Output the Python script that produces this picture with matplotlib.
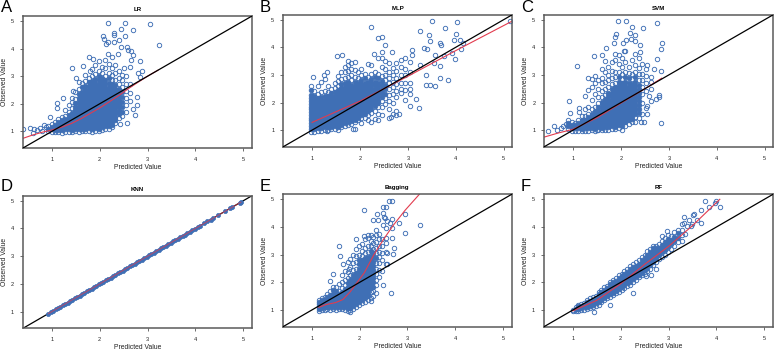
import matplotlib
matplotlib.use('Agg')
import matplotlib.pyplot as plt

plt.rcParams['font.family'] = ['Liberation Sans', 'DejaVu Sans']

# dense part of each cloud, as (predicted, [observed...]) columns
lr_cols = [
    (0.93, [1.02, 1.10, 1.20]),
    (1.00, [0.98, 1.07, 1.17, 1.27]),
    (1.07, [0.97, 1.05, 1.14, 1.23, 1.33]),
    (1.14, [0.98, 1.06, 1.15, 1.25, 1.35, 1.44]),
    (1.21, [0.96, 1.05, 1.14, 1.23, 1.32, 1.41, 1.52]),
    (1.28, [0.98, 1.07, 1.16, 1.26, 1.35, 1.45, 1.56, 1.78]),
    (1.35, [0.99, 1.08, 1.17, 1.26, 1.36, 1.46, 1.58, 1.72, 1.95]),
    (1.42, [0.97, 1.06, 1.15, 1.25, 1.35, 1.45, 1.56, 1.68, 1.85, 2.05, 2.2]),
    (1.49, [1.00, 1.09, 1.18, 1.27, 1.37, 1.47, 1.57, 1.67, 1.78, 1.90, 2.02, 2.18, 2.42]),
    (1.56, [0.98, 1.07, 1.16, 1.26, 1.36, 1.46, 1.56, 1.66, 1.76, 1.86, 1.97, 2.08, 2.2, 2.34, 2.52, 2.8]),
    (1.63, [1.01, 1.10, 1.20, 1.30, 1.40, 1.50, 1.60, 1.70, 1.80, 1.90, 2.00, 2.10, 2.21, 2.32, 2.44, 2.6, 2.75]),
    (1.70, [1.00, 1.09, 1.18, 1.28, 1.38, 1.48, 1.58, 1.68, 1.78, 1.88, 1.98, 2.08, 2.18, 2.28, 2.38, 2.5, 2.64, 2.82, 3.05]),
    (1.77, [1.02, 1.12, 1.22, 1.32, 1.42, 1.52, 1.62, 1.72, 1.82, 1.92, 2.02, 2.12, 2.22, 2.32, 2.42, 2.52, 2.64, 2.78, 2.95]),
    (1.84, [0.99, 1.08, 1.18, 1.28, 1.38, 1.48, 1.58, 1.68, 1.78, 1.88, 1.98, 2.08, 2.18, 2.28, 2.38, 2.48, 2.58, 2.7, 2.84, 3.0, 3.25]),
    (1.91, [1.03, 1.13, 1.23, 1.33, 1.43, 1.53, 1.63, 1.73, 1.83, 1.93, 2.03, 2.13, 2.23, 2.33, 2.43, 2.53, 2.63, 2.75, 2.9, 3.08, 3.42]),
    (1.98, [1.01, 1.10, 1.20, 1.30, 1.40, 1.50, 1.60, 1.70, 1.80, 1.90, 2.00, 2.10, 2.20, 2.30, 2.40, 2.50, 2.6, 2.72, 2.86, 3.02, 3.2, 3.55]),
    (2.05, [1.05, 1.15, 1.25, 1.35, 1.45, 1.55, 1.65, 1.75, 1.85, 1.95, 2.05, 2.15, 2.25, 2.35, 2.45, 2.55, 2.67, 2.8, 2.95, 3.12, 3.35]),
    (2.12, [1.08, 1.18, 1.28, 1.38, 1.48, 1.58, 1.68, 1.78, 1.88, 1.98, 2.08, 2.18, 2.28, 2.38, 2.48, 2.58, 2.7, 2.85, 3.02, 3.3, 3.6]),
    (2.19, [1.10, 1.20, 1.30, 1.40, 1.50, 1.60, 1.70, 1.80, 1.90, 2.00, 2.10, 2.20, 2.30, 2.40, 2.50, 2.62, 2.76, 2.92, 3.1, 3.45]),
    (2.26, [1.15, 1.25, 1.35, 1.45, 1.55, 1.65, 1.75, 1.85, 1.95, 2.05, 2.15, 2.25, 2.35, 2.45, 2.56, 2.7, 2.85, 3.05, 3.3, 3.7]),
    (2.33, [1.30, 1.42, 1.54, 1.65, 1.76, 1.87, 1.98, 2.09, 2.2, 2.31, 2.42, 2.54, 2.68, 2.85, 3.1, 3.4]),
    (2.40, [1.48, 1.62, 1.75, 1.88, 2.0, 2.12, 2.25, 2.38, 2.52, 2.7, 2.95, 3.2]),
    (2.47, [1.55, 1.72, 1.9, 2.08, 2.25, 2.42, 2.6, 2.85, 3.05]),
    (2.55, [1.7, 1.95, 2.2, 2.45, 2.72, 3.0]),
    (2.63, [2.1, 2.38, 2.7]),
]
lr_out_x = [2.18, 2.53, 3.05, 3.23, 2.70, 2.44, 2.30, 2.29, 2.08, 2.09, 2.53, 2.40, 2.29, 2.18, 2.13, 2.58, 2.45, 2.60, 2.65, 2.38, 2.18, 2.69, 2.65, 2.84, 1.77, 1.87, 1.65, 1.43, 2.88, 2.79, 2.84, 2.51, 2.63, 1.79, 1.50, 1.45, 1.24, 1.12, 1.12, 0.97, 0.55, 0.41, 0.62, 0.69, 0.60, 0.83, 2.57, 2.43, 2.74, 2.77, 2.70, 2.77, 0.75, 0.80, 0.87]
lr_out_y = [4.93, 4.93, 4.88, 4.12, 4.69, 4.70, 4.58, 4.48, 4.45, 4.34, 4.45, 4.30, 4.24, 4.24, 4.16, 4.06, 4.04, 3.94, 3.92, 3.82, 3.82, 3.76, 3.60, 3.56, 3.70, 3.64, 3.38, 3.30, 3.20, 3.12, 2.96, 3.28, 3.34, 3.20, 2.92, 2.48, 2.20, 2.02, 1.84, 1.54, 1.14, 1.08, 1.08, 1.06, 0.94, 1.24, 1.30, 1.26, 1.60, 1.96, 1.80, 2.26, 1.12, 1.02, 1.15]
lr_fit_x = [0.40, 0.60, 0.80, 1.00, 1.20, 1.40, 1.60, 1.80, 2.00, 2.20, 2.40, 2.60, 2.80, 3.00, 3.22]
lr_fit_y = [0.75, 0.87, 0.97, 1.05, 1.15, 1.28, 1.45, 1.65, 1.85, 2.07, 2.30, 2.55, 2.78, 3.00, 3.22]

mlp_cols = [
    (0.98, [0.95, 1.05, 1.15, 1.25, 1.35, 1.45, 1.55, 1.65, 1.75, 1.85, 1.95, 2.05, 2.15, 2.28, 2.45, 2.6]),
    (1.05, [0.94, 1.03, 1.13, 1.23, 1.33, 1.43, 1.53, 1.63, 1.73, 1.83, 1.93, 2.03, 2.13, 2.25, 2.4]),
    (1.12, [0.96, 1.06, 1.16, 1.26, 1.36, 1.46, 1.56, 1.66, 1.76, 1.86, 1.96, 2.06, 2.18, 2.32, 2.6]),
    (1.19, [0.98, 1.08, 1.18, 1.28, 1.38, 1.48, 1.58, 1.68, 1.78, 1.88, 1.98, 2.08, 2.2, 2.38, 2.75]),
    (1.26, [1.00, 1.10, 1.20, 1.30, 1.40, 1.50, 1.60, 1.70, 1.80, 1.90, 2.00, 2.10, 2.22, 2.4, 2.85]),
    (1.33, [1.02, 1.12, 1.22, 1.32, 1.42, 1.52, 1.62, 1.72, 1.82, 1.92, 2.02, 2.12, 2.24, 2.38, 2.58]),
    (1.40, [1.03, 1.13, 1.23, 1.33, 1.43, 1.53, 1.63, 1.73, 1.83, 1.93, 2.03, 2.13, 2.23, 2.35, 2.5]),
    (1.47, [1.05, 1.15, 1.25, 1.35, 1.45, 1.55, 1.65, 1.75, 1.85, 1.95, 2.05, 2.15, 2.25, 2.37, 2.52, 2.72]),
    (1.54, [1.02, 1.12, 1.22, 1.32, 1.42, 1.52, 1.62, 1.72, 1.82, 1.92, 2.02, 2.12, 2.22, 2.32, 2.44, 2.58, 2.78, 2.95]),
    (1.61, [1.10, 1.20, 1.30, 1.40, 1.50, 1.60, 1.70, 1.80, 1.90, 2.00, 2.10, 2.20, 2.30, 2.40, 2.52, 2.68, 2.85, 3.1]),
    (1.68, [1.15, 1.25, 1.35, 1.45, 1.55, 1.65, 1.75, 1.85, 1.95, 2.05, 2.15, 2.25, 2.35, 2.45, 2.57, 2.72, 2.9, 3.12, 3.3]),
    (1.75, [1.20, 1.30, 1.40, 1.50, 1.60, 1.70, 1.80, 1.90, 2.00, 2.10, 2.20, 2.30, 2.40, 2.50, 2.6, 2.75, 2.92, 3.15, 3.35, 3.5]),
    (1.82, [1.22, 1.32, 1.42, 1.52, 1.62, 1.72, 1.82, 1.92, 2.02, 2.12, 2.22, 2.32, 2.42, 2.52, 2.64, 2.8, 3.0, 3.2, 3.42]),
    (1.89, [1.05, 1.28, 1.38, 1.48, 1.58, 1.68, 1.78, 1.88, 1.98, 2.08, 2.18, 2.28, 2.38, 2.48, 2.6, 2.74, 2.92, 3.18, 3.48]),
    (1.96, [1.35, 1.45, 1.55, 1.65, 1.75, 1.85, 1.95, 2.05, 2.15, 2.25, 2.35, 2.45, 2.56, 2.7, 2.88, 3.1]),
    (2.03, [1.25, 1.45, 1.55, 1.65, 1.75, 1.85, 1.95, 2.05, 2.15, 2.25, 2.35, 2.45, 2.56, 2.68, 2.82, 3.0, 3.2]),
    (2.10, [1.45, 1.58, 1.7, 1.8, 1.9, 2.0, 2.1, 2.2, 2.3, 2.4, 2.5, 2.6, 2.72, 2.88, 3.05]),
    (2.17, [1.35, 1.55, 1.68, 1.8, 1.92, 2.02, 2.12, 2.22, 2.32, 2.42, 2.52, 2.62, 2.75, 2.92, 3.38]),
    (2.24, [1.3, 1.62, 1.78, 1.9, 2.0, 2.1, 2.2, 2.3, 2.4, 2.5, 2.6, 2.72, 2.86, 3.05, 3.35]),
    (2.31, [1.4, 1.7, 1.88, 2.0, 2.1, 2.2, 2.3, 2.4, 2.5, 2.62, 2.76, 2.92, 3.1]),
    (2.38, [1.35, 1.6, 1.82, 1.98, 2.1, 2.22, 2.34, 2.46, 2.58, 2.72, 2.88, 3.02, 3.6]),
    (2.45, [1.55, 1.85, 2.05, 2.2, 2.34, 2.48, 2.62, 2.78, 2.95, 3.3, 3.6]),
    (2.52, [1.95, 2.15, 2.32, 2.48, 2.64, 2.8, 3.0, 3.2, 3.5]),
    (2.60, [1.45, 1.75, 2.05, 2.28, 2.5, 2.7, 2.9, 3.1, 3.42]),
    (2.68, [1.6, 1.98, 2.3, 2.55, 2.75, 2.98, 3.25]),
    (2.76, [1.55, 1.7, 2.2, 2.42, 2.66, 2.9, 3.15, 3.42]),
    (2.85, [2.35, 2.5, 2.72, 3.0, 3.3, 3.55]),
    (2.95, [2.1, 2.45, 2.7, 3.0, 3.2, 3.6]),
    (3.05, [2.3, 2.48, 2.72, 3.12, 3.45]),
]
mlp_out_x = [2.23, 3.50, 4.03, 3.78, 3.26, 3.44, 4.01, 2.37, 2.46, 2.53, 3.46, 4.08, 3.96, 4.15, 3.68, 3.70, 3.33, 3.40, 4.11, 3.09, 5.14, 1.52, 1.63, 2.30, 2.46, 2.67, 3.09, 3.57, 3.75, 3.92, 3.99, 3.54, 3.68, 3.26, 3.37, 3.68, 3.83, 3.47, 3.57, 3.37, 3.23, 3.05, 3.18, 2.81, 2.64, 1.03, 1.31, 1.24, 1.31, 1.85]
mlp_out_y = [4.72, 4.94, 4.90, 4.70, 4.60, 4.46, 4.49, 4.33, 4.36, 4.07, 4.24, 4.28, 4.25, 4.16, 4.16, 4.07, 3.98, 3.95, 3.94, 3.89, 4.94, 3.70, 3.71, 3.77, 3.83, 3.82, 3.73, 3.73, 3.67, 3.80, 3.58, 3.43, 3.34, 3.37, 3.01, 2.87, 2.81, 2.63, 2.59, 2.63, 1.81, 1.89, 2.11, 1.57, 1.48, 2.93, 3.10, 3.00, 0.96, 1.05]
mlp_fit_x = [1.00, 2.00, 3.00, 4.00, 5.18]
mlp_fit_y = [1.28, 2.05, 2.95, 3.88, 4.95]

svm_cols = [
    (0.90, [1.05, 1.15, 1.27, 1.38]),
    (0.97, [0.98, 1.08, 1.18, 1.3]),
    (1.04, [0.98, 1.07, 1.17, 1.27]),
    (1.11, [0.97, 1.06, 1.16, 1.27, 1.38]),
    (1.18, [0.96, 1.05, 1.15, 1.25, 1.36, 1.5]),
    (1.25, [0.98, 1.07, 1.17, 1.27, 1.38, 1.5, 1.75, 2.25]),
    (1.32, [0.97, 1.06, 1.16, 1.26, 1.36, 1.47, 1.6, 1.85, 2.45, 2.9]),
    (1.39, [0.99, 1.08, 1.18, 1.28, 1.38, 1.48, 1.6, 1.75, 2.1, 2.55, 2.85]),
    (1.46, [0.98, 1.08, 1.18, 1.28, 1.38, 1.48, 1.58, 1.7, 1.85, 2.3, 2.7, 2.95]),
    (1.53, [1.00, 1.10, 1.20, 1.30, 1.40, 1.50, 1.60, 1.70, 1.82, 1.98, 2.2, 2.5, 2.8]),
    (1.60, [0.99, 1.09, 1.19, 1.29, 1.39, 1.49, 1.59, 1.69, 1.79, 1.9, 2.03, 2.2, 2.42, 2.7, 2.9, 3.22]),
    (1.67, [1.02, 1.12, 1.22, 1.32, 1.42, 1.52, 1.62, 1.72, 1.82, 1.92, 2.02, 2.14, 2.28, 2.5, 2.75, 3.1, 3.5]),
    (1.74, [1.00, 1.10, 1.20, 1.30, 1.40, 1.50, 1.60, 1.70, 1.80, 1.90, 2.00, 2.10, 2.22, 2.36, 2.55, 2.8, 3.0, 3.3]),
    (1.81, [1.05, 1.15, 1.25, 1.35, 1.45, 1.55, 1.65, 1.75, 1.85, 1.95, 2.05, 2.15, 2.25, 2.36, 2.5, 2.68, 2.9, 3.15, 3.45]),
    (1.88, [1.03, 1.13, 1.23, 1.33, 1.43, 1.53, 1.63, 1.73, 1.83, 1.93, 2.03, 2.13, 2.23, 2.33, 2.44, 2.56, 2.72, 2.92, 3.1, 3.55, 3.75]),
    (1.95, [1.08, 1.18, 1.28, 1.38, 1.48, 1.58, 1.68, 1.78, 1.88, 1.98, 2.08, 2.18, 2.28, 2.38, 2.48, 2.6, 2.75, 2.92, 3.1, 3.4, 3.72]),
    (2.02, [1.02, 1.15, 1.25, 1.35, 1.45, 1.55, 1.65, 1.75, 1.85, 1.95, 2.05, 2.15, 2.25, 2.35, 2.45, 2.56, 2.7, 2.85, 3.05, 3.3, 3.6]),
    (2.09, [1.15, 1.28, 1.38, 1.48, 1.58, 1.68, 1.78, 1.88, 1.98, 2.08, 2.18, 2.28, 2.38, 2.48, 2.6, 2.74, 2.92, 3.1, 3.45, 3.85]),
    (2.16, [1.22, 1.35, 1.45, 1.55, 1.65, 1.75, 1.85, 1.95, 2.05, 2.15, 2.25, 2.35, 2.45, 2.56, 2.7, 2.88, 3.06, 3.3]),
    (2.23, [1.3, 1.42, 1.52, 1.62, 1.72, 1.82, 1.92, 2.02, 2.12, 2.22, 2.32, 2.42, 2.54, 2.68, 2.85, 3.05, 3.55]),
    (2.30, [1.28, 1.48, 1.6, 1.72, 1.84, 1.96, 2.08, 2.2, 2.32, 2.44, 2.58, 2.74, 2.92, 3.1, 3.35, 3.75]),
    (2.37, [1.45, 1.62, 1.78, 1.92, 2.06, 2.2, 2.34, 2.48, 2.64, 2.82, 3.02, 3.25, 3.6]),
    (2.44, [1.6, 2.0, 2.3, 2.55, 2.8, 3.05, 3.38]),
    (2.52, [1.8, 2.4, 2.7, 2.95, 3.2]),
    (2.62, [2.05, 2.5, 2.75, 2.92]),
]
svm_out_x = [1.94, 2.10, 2.75, 2.24, 2.46, 2.18, 2.29, 1.89, 1.87, 2.20, 2.10, 2.29, 2.86, 1.86, 2.04, 2.40, 2.84, 1.68, 2.06, 1.44, 1.60, 2.40, 2.76, 1.09, 2.84, 2.69, 2.55, 0.92, 1.13, 1.13, 0.93, 2.84, 0.48, 0.60, 0.67, 0.74, 2.80, 2.80, 2.73, 2.59, 2.55, 2.55, 2.48, 2.41, 1.51, 0.80, 0.85]
svm_out_y = [4.94, 4.94, 4.88, 4.72, 4.70, 4.52, 4.46, 4.48, 4.36, 4.30, 4.28, 4.24, 4.16, 4.16, 4.16, 4.07, 3.95, 3.98, 3.86, 3.67, 3.71, 3.83, 3.59, 3.31, 3.13, 3.23, 3.37, 2.05, 1.81, 1.65, 1.63, 1.27, 0.96, 1.14, 0.99, 1.08, 2.29, 2.20, 2.11, 2.23, 1.87, 1.57, 1.29, 1.29, 1.00, 1.16, 1.22]
svm_fit_x = [0.40, 0.70, 1.00, 1.50, 2.00, 2.50, 2.85]
svm_fit_y = [0.75, 0.90, 1.03, 1.45, 1.98, 2.50, 2.88]

knn_vals = [0.93, 0.98, 1.03, 1.08, 1.13, 1.18, 1.23, 1.28, 1.33, 1.38, 1.43, 1.48, 1.53, 1.58, 1.63, 1.68, 1.73, 1.78, 1.83, 1.88, 1.93, 1.98, 2.03, 2.08, 2.13, 2.18, 2.23, 2.28, 2.33, 2.38, 2.43, 2.48, 2.53, 2.58, 2.63, 2.68, 2.73, 2.78, 2.83, 2.88, 2.93, 2.98, 3.03, 3.08, 3.13, 3.18, 3.23, 3.28, 3.33, 3.38, 3.43, 3.48, 3.53, 3.58, 3.63, 3.68, 3.73, 3.78, 3.83, 3.88, 3.93, 3.98, 4.05, 4.10, 4.18, 4.25, 4.32, 4.36, 4.48, 4.62, 4.72, 4.76, 4.92, 4.95]
knn_fit_x = [0.93, 4.95]
knn_fit_y = [0.93, 4.95]

bag_cols = [
    (1.15, [0.95, 1.03, 1.12, 1.21, 1.3, 1.38]),
    (1.21, [1.0, 1.08, 1.17, 1.26, 1.35, 1.42]),
    (1.27, [1.02, 1.1, 1.19, 1.28, 1.37, 1.47]),
    (1.33, [1.03, 1.11, 1.2, 1.29, 1.38, 1.48, 1.58]),
    (1.39, [1.02, 1.1, 1.19, 1.28, 1.37, 1.46, 1.56, 1.68]),
    (1.45, [1.03, 1.11, 1.2, 1.29, 1.38, 1.47, 1.57, 1.72, 1.85]),
    (1.51, [1.02, 1.1, 1.19, 1.28, 1.37, 1.46, 1.56, 1.68, 1.85]),
    (1.57, [1.03, 1.11, 1.2, 1.29, 1.38, 1.47, 1.57, 1.7, 1.95]),
    (1.63, [1.03, 1.11, 1.2, 1.29, 1.38, 1.47, 1.56, 1.66, 1.78, 2.0, 2.25]),
    (1.69, [1.02, 1.1, 1.19, 1.28, 1.37, 1.46, 1.55, 1.65, 1.76, 1.9, 2.1, 2.4]),
    (1.75, [0.98, 1.07, 1.16, 1.25, 1.34, 1.43, 1.52, 1.62, 1.72, 1.83, 1.97, 2.15, 2.38, 2.75]),
    (1.81, [1.0, 1.09, 1.18, 1.27, 1.36, 1.45, 1.54, 1.64, 1.74, 1.84, 1.95, 2.1, 2.28, 2.55, 2.85]),
    (1.87, [1.05, 1.14, 1.23, 1.32, 1.41, 1.5, 1.6, 1.7, 1.8, 1.9, 2.0, 2.12, 2.28, 2.45, 2.7, 3.0]),
    (1.93, [1.12, 1.22, 1.32, 1.42, 1.52, 1.62, 1.72, 1.82, 1.92, 2.02, 2.12, 2.22, 2.34, 2.5, 2.72, 2.95, 3.2]),
    (1.99, [1.18, 1.28, 1.38, 1.48, 1.58, 1.68, 1.78, 1.88, 1.98, 2.08, 2.18, 2.28, 2.38, 2.5, 2.65, 2.82, 3.0, 3.3]),
    (2.05, [1.25, 1.35, 1.45, 1.55, 1.65, 1.75, 1.85, 1.95, 2.05, 2.15, 2.25, 2.35, 2.45, 2.55, 2.67, 2.8, 2.95, 3.15, 3.4]),
    (2.11, [1.3, 1.42, 1.52, 1.62, 1.72, 1.82, 1.92, 2.02, 2.12, 2.22, 2.32, 2.42, 2.52, 2.62, 2.74, 2.88, 3.05, 3.25, 3.55]),
    (2.17, [1.38, 1.5, 1.62, 1.74, 1.85, 1.96, 2.06, 2.16, 2.26, 2.36, 2.46, 2.56, 2.66, 2.78, 2.92, 3.1, 3.3, 3.6, 3.72]),
    (2.23, [1.32, 1.45, 1.65, 1.8, 1.95, 2.08, 2.2, 2.32, 2.44, 2.56, 2.68, 2.8, 2.95, 3.12, 3.3, 3.5, 3.72]),
    (2.29, [1.5, 1.7, 1.85, 2.0, 2.15, 2.3, 2.45, 2.6, 2.75, 2.9, 3.05, 3.22, 3.42, 3.65]),
    (2.35, [1.62, 1.9, 2.1, 2.3, 2.5, 2.7, 2.88, 3.05, 3.25, 3.45, 3.7, 3.88]),
    (2.41, [2.2, 2.45, 2.7, 2.9, 3.1, 3.3, 3.55, 3.75]),
    (2.47, [2.4, 2.8, 3.05, 3.3, 3.55]),
    (2.55, [2.65, 3.1, 3.42, 3.62]),
]
bag_out_x = [2.61, 2.68, 2.48, 2.56, 2.10, 2.48, 2.36, 2.96, 2.51, 2.54, 2.28, 2.39, 2.67, 2.58, 2.63, 2.82, 2.48, 3.26, 2.56, 2.67, 2.94, 2.09, 1.92, 2.68, 1.57, 2.71, 2.70, 1.60, 1.65, 1.45, 1.38, 2.65, 2.48, 1.80, 2.58, 2.57, 1.78]
bag_out_y = [4.94, 4.94, 4.72, 4.73, 4.60, 4.49, 4.46, 4.46, 4.36, 4.31, 4.25, 4.25, 4.28, 4.22, 4.13, 4.16, 4.07, 4.07, 3.95, 3.98, 3.77, 3.67, 3.55, 3.61, 3.31, 3.25, 3.01, 2.95, 2.65, 2.31, 2.05, 1.60, 1.90, 0.94, 2.65, 3.07, 2.49]
bag_fit_x = [1.15, 1.30, 1.50, 1.65, 1.80, 1.95, 2.10, 2.30, 2.50, 2.70, 2.95, 3.25]
bag_fit_y = [1.10, 1.20, 1.27, 1.38, 1.65, 2.00, 2.35, 3.00, 3.55, 4.05, 4.60, 5.18]

rf_cols = [
    (1.00, [0.96, 1.02]),
    (1.06, [0.97, 1.03, 1.1]),
    (1.12, [0.98, 1.05, 1.13, 1.2]),
    (1.18, [1.0, 1.07, 1.15, 1.23]),
    (1.24, [1.02, 1.1, 1.18, 1.27]),
    (1.30, [1.04, 1.12, 1.2, 1.29, 1.38]),
    (1.36, [1.07, 1.15, 1.24, 1.33, 1.42]),
    (1.42, [1.1, 1.19, 1.28, 1.37, 1.46]),
    (1.48, [1.15, 1.24, 1.33, 1.42, 1.52]),
    (1.54, [1.2, 1.29, 1.38, 1.47, 1.57, 1.66]),
    (1.60, [1.28, 1.37, 1.46, 1.55, 1.64, 1.74]),
    (1.66, [1.35, 1.44, 1.53, 1.62, 1.71, 1.82]),
    (1.72, [1.42, 1.51, 1.6, 1.69, 1.78, 1.88]),
    (1.78, [1.48, 1.57, 1.66, 1.75, 1.84, 1.94, 2.02]),
    (1.84, [1.53, 1.62, 1.71, 1.8, 1.9, 2.0, 2.1]),
    (1.90, [1.6, 1.69, 1.78, 1.87, 1.96, 2.06, 2.16]),
    (1.96, [1.65, 1.75, 1.85, 1.95, 2.05, 2.15, 2.25]),
    (2.02, [1.72, 1.82, 1.92, 2.02, 2.12, 2.22, 2.32]),
    (2.08, [1.8, 1.9, 2.0, 2.1, 2.2, 2.3, 2.4]),
    (2.14, [1.88, 1.98, 2.08, 2.18, 2.28, 2.38, 2.48]),
    (2.20, [1.92, 2.03, 2.14, 2.25, 2.36, 2.47, 2.58]),
    (2.26, [2.0, 2.11, 2.22, 2.33, 2.44, 2.55, 2.66]),
    (2.32, [2.1, 2.2, 2.3, 2.4, 2.5, 2.6, 2.72]),
    (2.38, [2.18, 2.28, 2.38, 2.48, 2.58, 2.68, 2.8]),
    (2.44, [2.25, 2.35, 2.46, 2.57, 2.68, 2.8, 2.9]),
    (2.50, [2.32, 2.43, 2.54, 2.65, 2.76, 2.88, 3.0]),
    (2.56, [2.42, 2.53, 2.64, 2.75, 2.87, 3.0, 3.12]),
    (2.62, [2.5, 2.62, 2.74, 2.86, 2.98, 3.1, 3.22]),
    (2.68, [2.62, 2.75, 2.88, 3.0, 3.12, 3.25, 3.32]),
    (2.74, [2.75, 2.88, 3.0, 3.13, 3.25, 3.33]),
    (2.80, [2.85, 3.0, 3.12, 3.25, 3.4]),
    (2.86, [2.92, 3.08, 3.22, 3.36, 3.5]),
    (2.92, [3.0, 3.18, 3.32, 3.46, 3.6]),
    (2.98, [3.1, 3.28, 3.42, 3.56, 3.72]),
    (3.05, [3.2, 3.38, 3.52, 3.68]),
    (3.12, [3.3, 3.48, 3.65, 3.82]),
    (3.20, [3.45, 3.62, 3.78, 3.88]),
    (3.28, [3.5, 3.72, 3.88, 4.1]),
]
rf_out_x = [3.76, 4.00, 3.96, 3.85, 4.08, 3.67, 3.53, 3.33, 3.42, 3.32, 3.68, 3.49, 3.46, 3.35, 2.97, 2.87, 2.73, 2.25, 1.77, 1.45, 2.64, 2.52, 3.50, 3.60, 3.38]
rf_out_y = [4.94, 4.94, 4.88, 4.72, 4.72, 4.60, 4.48, 4.36, 4.25, 4.16, 4.16, 4.10, 4.04, 3.76, 3.86, 3.67, 2.49, 1.63, 1.20, 0.93, 2.25, 2.23, 4.45, 4.25, 4.05]
rf_fit_x = [1.00, 1.50, 2.00, 2.50, 3.00, 3.50, 4.07]
rf_fit_y = [0.97, 1.35, 1.95, 2.65, 3.30, 4.05, 5.00]

blue = '#3f6fb5'
red = '#e23b4e'
frame = '#5a5a5a'
lo, hi = 0.40, 5.18
W, H = 775.0, 350.0


def split_cols(cols, out_x, out_y):
    # packed points overlap into a solid mass in the original, so fill those
    hx, hy = list(out_x), list(out_y)
    sx, sy = [], []
    for x, ys in cols:
        for i, y in enumerate(ys):
            packed = 0 < i < len(ys) - 1 and ys[i + 1] - y < 0.19 and y - ys[i - 1] < 0.19
            if packed:
                sx.append(x)
                sy.append(y)
            else:
                hx.append(x)
                hy.append(y)
    return hx, hy, sx, sy


def panel(box, title, letter, letter_x, letter_y, pts, fx, fy):
    x0, x1, y0, y1 = box
    hx, hy, sx, sy = pts
    ax = fig.add_axes([x0 / W, 1 - y1 / H, (x1 - x0) / W, (y1 - y0) / H])
    knn = title == 'KNN'
    ax.plot(hx, hy, 'o', ms=3.2, mfc='none', mec=blue, mew=0.65, zorder=2)
    ax.plot(sx, sy, 'o', ms=3.0 if knn else 3.4, mfc=blue, mec=blue, mew=0.5, zorder=2)
    ax.plot([lo, hi], [lo, hi], color='black', lw=0.9, zorder=1 if knn else 3)
    ax.plot(fx, fy, color=red, lw=0.7 if knn else 0.8, alpha=0.7 if knn else 1, zorder=4 if knn else 2.5)
    ax.set_xlim(lo, hi)
    ax.set_ylim(lo, hi)
    ax.set_xticks([1, 2, 3, 4, 5])
    ax.set_yticks([1, 2, 3, 4, 5])
    ax.tick_params(labelsize=4, length=2, width=0.5, pad=4.5, color='#333333', labelcolor='#222222')
    ax.set_xlabel('Predicted Value', fontsize=4.9, labelpad=1.5, color='#222222')
    ax.set_ylabel('Observed Value', fontsize=4.9, labelpad=2, color='#222222')
    ax.set_title(title, fontsize=4.4, fontweight='bold', pad=3.5)
    for s in ax.spines.values():
        s.set_color(frame)
        s.set_linewidth(1.1)
    fig.text(letter_x / W, 1 - letter_y / H, letter, fontsize=12, ha='left', va='center', color='black')
    return ax


fig = plt.figure(figsize=(7.75, 3.5), dpi=100, facecolor='white')

panel((23, 252, 16, 148), 'LR', 'A', 1, 8, split_cols(lr_cols, lr_out_x, lr_out_y), lr_fit_x, lr_fit_y)
panel((283.3, 512.3, 14.7, 146.7), 'MLP', 'B', 260, 8, split_cols(mlp_cols, mlp_out_x, mlp_out_y), mlp_fit_x, mlp_fit_y)
panel((544.3, 773.3, 14.7, 146.7), 'SVM', 'C', 521, 8, split_cols(svm_cols, svm_out_x, svm_out_y), svm_fit_x, svm_fit_y)
panel((23, 252, 195.7, 328.3), 'KNN', 'D', 1, 186, ([], [], knn_vals, knn_vals), knn_fit_x, knn_fit_y)
panel((283, 511.7, 194.3, 326.7), 'Bagging', 'E', 260, 186, split_cols(bag_cols, bag_out_x, bag_out_y), bag_fit_x, bag_fit_y)
panel((544, 773, 194.3, 326.7), 'RF', 'F', 521, 186, split_cols(rf_cols, rf_out_x, rf_out_y), rf_fit_x, rf_fit_y)

fig.savefig('out.png', dpi=100)
